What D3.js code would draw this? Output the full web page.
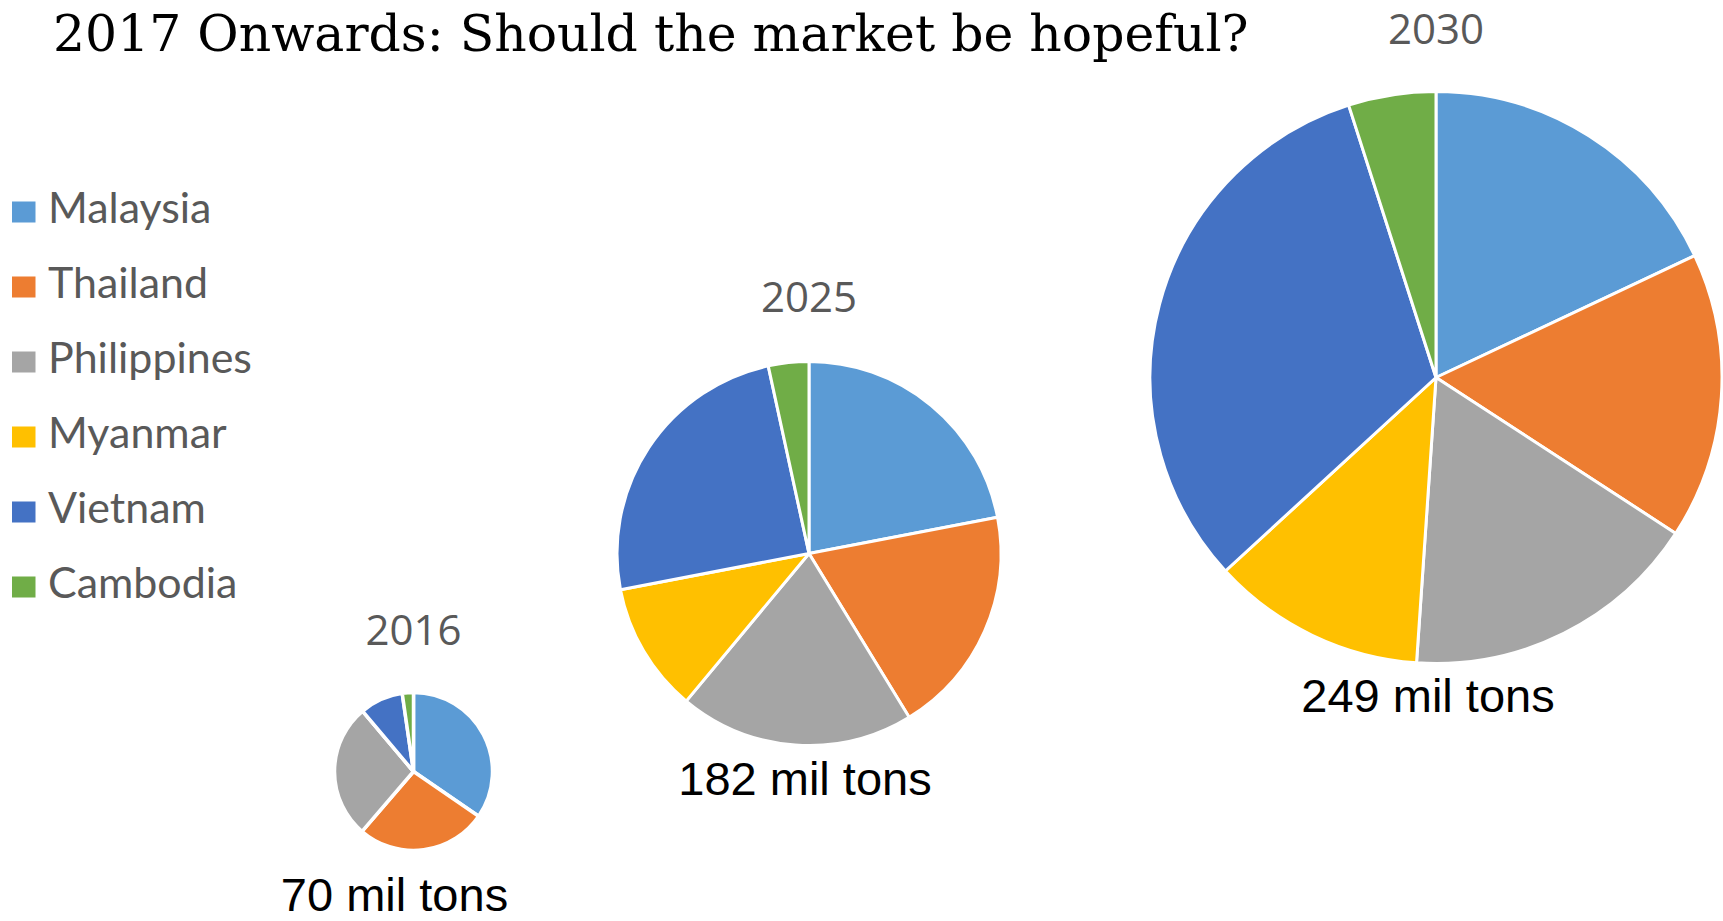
<!DOCTYPE html>
<html>
<head>
<meta charset="utf-8">
<script src="https://cdn.jsdelivr.net/npm/d3@7"></script>
<style>
  html, body { margin: 0; padding: 0; background: #ffffff; }
  svg { display: block; }
</style>
</head>
<body>
<svg id="chart" width="1723" height="921"></svg>
<script>
// ---------------- DATA ----------------
const titleText = "2017 Onwards: Should the market be hopeful?";
const countries = ["Malaysia", "Thailand", "Philippines", "Myanmar", "Vietnam", "Cambodia"];
const years = ["2016", "2025", "2030"];
const totals = [70, 182, 249];
const values2016 = [24.2, 18.7, 19.3, 0, 6.2, 1.6];
const values2025 = [40.0, 35.1, 36.0, 19.9, 44.8, 6.2];
const values2030 = [44.8, 40.3, 42.1, 30.1, 79.4, 12.3];
const totalLabels = totals.map(t => t + " mil tons");

// ---------------- STYLE / LAYOUT ----------------
const colors = ["#5B9BD5", "#ED7D31", "#A5A5A5", "#FFC000", "#4472C4", "#70AD47"];
const pieLayout = [
  { cx: 413.5, cy: 771.5, r: 79,  yearY: 645, labelX: 394.5, labelY: 911, stroke: 3.5 },
  { cx: 809,   cy: 553.5, r: 192, yearY: 312, labelX: 805,   labelY: 795, stroke: 3 },
  { cx: 1436,  cy: 377.5, r: 286, yearY: 43.5, labelX: 1428, labelY: 712, stroke: 3 }
];
const seriesValues = [values2016, values2025, values2030];

const svg = d3.select("#chart");
const color = d3.scaleOrdinal().domain(countries).range(colors);

// Title
const title = svg.append("text")
  .attr("x", 53)
  .attr("y", 51)
  .attr("font-family", "DejaVu Serif, Liberation Serif, serif")
  .attr("font-size", 50)
  .attr("fill", "#000")
  .text(titleText);
{
  const w = title.node().getComputedTextLength();
  title.attr("font-size", 50 * 1196 / w);
}

// Legend
const legend = svg.append("g");
const legendRows = legend.selectAll("g").data(countries).enter().append("g")
  .attr("transform", (d, i) => `translate(0, ${223 + i * 75})`);
legendRows.append("rect")
  .attr("x", 12).attr("y", -21.5)
  .attr("width", 23.5).attr("height", 21)
  .attr("fill", d => color(d));
const legendTexts = legendRows.append("text")
  .attr("x", 48).attr("y", 0)
  .attr("font-family", "Lato, Open Sans, sans-serif")
  .attr("font-size", 38)
  .attr("fill", "#595959")
  .text(d => d);
{
  const phil = legendTexts.filter(d => d === "Philippines").node();
  const w = phil.getComputedTextLength();
  legendTexts.attr("font-size", 38 * 204 / w);
}

// Pies
const pie = d3.pie().sort(null).value(d => d.value);

years.forEach((yr, k) => {
  const L = pieLayout[k];
  const data = countries.map((c, i) => ({ country: c, value: seriesValues[k][i] }));
  const arc = d3.arc().innerRadius(0).outerRadius(L.r);
  const g = svg.append("g").attr("transform", `translate(${L.cx},${L.cy})`);
  g.selectAll("path").data(pie(data)).enter().append("path")
    .attr("d", arc)
    .attr("fill", d => color(d.data.country))
    .attr("stroke", "#ffffff")
    .attr("stroke-width", L.stroke)
    .attr("stroke-linejoin", "round");

  svg.append("text")
    .attr("x", L.cx).attr("y", L.yearY)
    .attr("text-anchor", "middle")
    .attr("font-family", "Open Sans, Liberation Sans, sans-serif")
    .attr("font-size", 42)
    .attr("fill", "#595959")
    .text(yr);

  svg.append("text")
    .attr("x", L.labelX).attr("y", L.labelY)
    .attr("text-anchor", "middle")
    .attr("font-family", "Liberation Sans, Arial, sans-serif")
    .attr("font-size", 47)
    .attr("fill", "#000000")
    .text(totalLabels[k]);
});
</script>
</body>
</html>
